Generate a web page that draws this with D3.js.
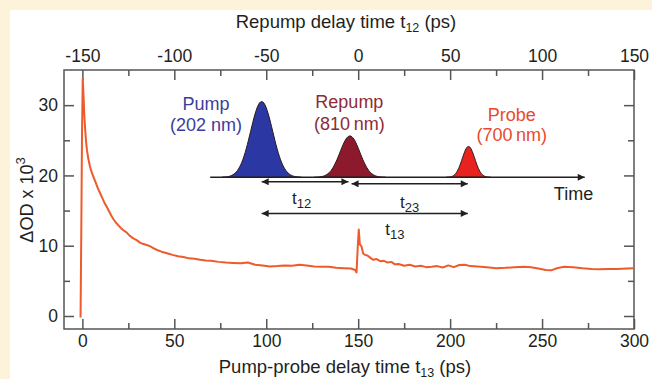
<!DOCTYPE html>
<html>
<head>
<meta charset="utf-8">
<script src="https://cdn.jsdelivr.net/npm/d3@7"></script>
<style>
body { margin: 0; background: #fdf3da; }
text { font-family: "Liberation Sans", Arial, Helvetica, sans-serif; fill: #231f20; }
</style>
</head>
<body>
<svg id="chart"></svg>
<script>
// measured trace: pump-probe delay t13 (ps) and dOD x 10^3
const delay = [-1, -0.6, -0.2, 0.2, 0.6, 1.0, 1.5, 2.0, 2.5, 3.2, 4.2, 5.0, 6.0, 7.2, 8.4, 9.6,
    11.0, 12.2, 13.3, 14.5, 15.7, 16.8, 18.2, 19.6, 21.0, 22.3, 24.0, 25.8, 27.7, 29.5, 31.5, 33.2,
    35, 37, 39, 41, 43, 45, 47, 49, 52, 55, 58, 61, 64, 67, 70, 74, 78, 82, 86, 90, 94, 98,
    102, 106, 110, 114, 118, 122, 126, 130, 134, 138, 142, 146, 148.4, 149.1, 149.7, 150.3, 150.9,
    151.8, 152.7, 153.6, 155, 156.5, 158, 160, 162, 164, 166, 168, 170, 172, 175, 178, 181, 184,
    187, 190, 193, 196, 199, 202, 205, 208, 211, 215, 220, 225, 230, 235, 240, 244, 248, 252,
    255, 258, 262, 267, 272, 277, 281, 286, 291, 296, 300];
const dOD = [-0.2, 12, 26, 33.8, 31.5, 28.8, 26.6, 24.8, 23.6, 22.4, 21.2, 20.5, 19.8, 19.0, 18.2, 17.5,
    16.7, 16.0, 15.5, 14.9, 14.3, 13.8, 13.3, 12.9, 12.5, 12.2, 11.9, 11.4, 11.05, 10.8, 10.4, 10.25,
    10.1, 9.9, 9.6, 9.35, 9.15, 9.0, 8.85, 8.7, 8.5, 8.4, 8.2, 8.15, 8.0, 7.9, 7.85, 7.7, 7.6, 7.55, 7.5, 7.6, 7.3, 7.2,
    7.05, 7.1, 7.2, 7.15, 7.3, 7.2, 7.05, 7.0, 7.0, 6.85, 6.8, 6.75, 6.55, 6.2, 9.5, 12.3, 10.2,
    9.9, 8.9, 8.7, 8.6, 8.3, 8.0, 8.1, 7.8, 7.85, 7.6, 7.7, 7.35, 7.4, 7.15, 7.3, 7.05, 7.15,
    6.95, 7.0, 7.1, 6.9, 7.2, 6.95, 7.25, 7.3, 7.1, 7.05, 6.95, 6.8, 6.85, 6.95, 7.0, 6.95, 6.75, 6.55,
    6.5, 6.8, 7.0, 6.95, 6.8, 6.7, 6.65, 6.7, 6.7, 6.75, 6.8];

const bottomTicks = [0, 50, 100, 150, 200, 250, 300];
const bottomMinor = [25, 75, 125, 175, 225, 275];
const topTicks = [-150, -100, -50, 0, 50, 100, 150];
const topMinor = [-125, -75, -25, 25, 75, 125];
const leftTicks = [0, 10, 20, 30];
const leftMinor = [5, 15, 25];

// pulse sketch (inset), given in t13 / dOD units of the main axes
const pulseNames = ['Pump', 'Repump', 'Probe'];
const pulseWaves = ['(202 nm)', '(810\u2009nm)', '(700\u2009nm)'];
const pulseCenters = [97.5, 145.5, 210];
const pulseHeights = [10.8, 5.9, 4.4];
const pulseSigmas = [6.0, 5.4, 3.4];
const delayNames = ['12', '23', '13'];
const delayFrom = [97.5, 146.4, 97.5];
const delayTo = [144.7, 209.6, 209.6];

var config = {
    width: 652,
    height: 379,
    margin: {top: 70, right: 18, bottom: 50, left: 64}
};

const W = config.width, H = config.height, m = config.margin;
const svg = d3.select('#chart').attr('width', W).attr('height', H);

svg.append('rect').attr('width', W).attr('height', H).attr('fill', '#fdf3da');
svg.append('rect').attr('x', 10).attr('y', 10).attr('width', W - 10).attr('height', H - 10).attr('fill', '#ffffff');

const xscale = d3.scaleLinear().domain([-10, 300]).range([m.left, W - m.right]);
const xtop = d3.scaleLinear().domain([-160, 150]).range([m.left, W - m.right]);
const yscale = d3.scaleLinear().domain([-1.85, 35]).range([H - m.bottom, m.top]);

const axisColor = '#555';
const MAJ = 10, MIN = 6;
const plain = d => String(d);   // keep an ASCII hyphen for negatives

function drawAxis(axis, tx, ty) {
    const g = svg.append('g')
        .attr('transform', `translate(${tx}, ${ty})`)
        .style('font-family', '"Liberation Sans", Arial, sans-serif')
        .style('font-size', '17.5px')
        .call(axis);
    g.select('.domain').remove();
    g.selectAll('line').attr('stroke', axisColor).attr('stroke-width', 1.5);
    g.selectAll('text').attr('fill', '#231f20');
    return g;
}

const yB = H - m.bottom, yT = m.top, xL = m.left, xR = W - m.right;

drawAxis(d3.axisBottom(xscale).tickValues(bottomTicks).tickSize(-MAJ).tickPadding(6).tickFormat(plain), 0, yB);
drawAxis(d3.axisBottom(xscale).tickValues(bottomMinor).tickSize(-MIN).tickFormat(''), 0, yB);
drawAxis(d3.axisTop(xtop).tickValues(topTicks).tickSize(-MAJ).tickPadding(8).tickFormat(plain), 0, yT);
drawAxis(d3.axisTop(xtop).tickValues(topMinor).tickSize(-MIN).tickFormat(''), 0, yT);
drawAxis(d3.axisLeft(yscale).tickValues(leftTicks).tickSize(-MAJ).tickPadding(6).tickFormat(plain), xL, 0);
drawAxis(d3.axisLeft(yscale).tickValues(leftMinor).tickSize(-MIN).tickFormat(''), xL, 0);
drawAxis(d3.axisRight(yscale).tickValues(leftTicks).tickSize(-MAJ).tickFormat(''), xR, 0);
drawAxis(d3.axisRight(yscale).tickValues(leftMinor).tickSize(-MIN).tickFormat(''), xR, 0);

// frame
svg.append('rect')
    .attr('x', xL).attr('y', yT)
    .attr('width', xR - xL).attr('height', yB - yT)
    .attr('fill', 'none').attr('stroke', axisColor).attr('stroke-width', 1.5);

// axis titles
const top_title = svg.append('text')
    .attr('x', 346).attr('y', 28)
    .attr('text-anchor', 'middle')
    .style('font-size', '18.5px');
top_title.append('tspan').text('Repump delay time t');
top_title.append('tspan').attr('dy', 4).style('font-size', '12.5px').text('12');
top_title.append('tspan').attr('dy', -4).text(' (ps)');

const bottom_title = svg.append('text')
    .attr('x', 345).attr('y', 373)
    .attr('text-anchor', 'middle')
    .style('font-size', '18.5px');
bottom_title.append('tspan').text('Pump-probe delay time t');
bottom_title.append('tspan').attr('dy', 4).style('font-size', '12.5px').text('13');
bottom_title.append('tspan').attr('dy', -4).text(' (ps)');

const ylabel = svg.append('text')
    .attr('transform', 'translate(33, 200) rotate(-90)')
    .attr('text-anchor', 'middle')
    .style('font-size', '18px');
ylabel.append('tspan').text('\u0394OD x 10');
ylabel.append('tspan').attr('dy', -8).style('font-size', '13px').text('3');

// data trace
const trace = delay.map((d, i) => ({x: d, y: dOD[i]}));
svg.append('path')
    .datum(trace)
    .attr('d', d3.line()
        .x(d => xscale(d.x))
        .y(d => yscale(d.y)))
    .attr('fill', 'none')
    .attr('stroke', '#ef5a2b')
    .attr('stroke-width', 2)
    .attr('stroke-linejoin', 'round');

// ---- inset sketch ----
const defs = svg.append('defs');
defs.append('marker')
    .attr('id', 'head')
    .attr('viewBox', '0 0 10 10')
    .attr('refX', 10).attr('refY', 5)
    .attr('markerWidth', 9).attr('markerHeight', 7)
    .attr('markerUnits', 'userSpaceOnUse')
    .attr('orient', 'auto-start-reverse')
    .append('path').attr('d', 'M0,0 L10,5 L0,10 z').attr('fill', '#231f20');

const baseVal = 19.73;
const pulseFill = ['#2b37a3', '#8c1a2c', '#e8221f'];
const pulseText = ['#3b3d9c', '#8e2b34', '#ea4a2c'];

pulseCenters.forEach((c, i) => {
    const s = pulseSigmas[i], h = pulseHeights[i];
    const pts = d3.range(-3.6, 3.61, 0.1).map(k => ({x: c + k * s, y: baseVal + h * Math.exp(-k * k / 2)}));
    svg.append('path')
        .datum(pts)
        .attr('d', d3.area()
            .x(d => xscale(d.x))
            .y0(yscale(baseVal))
            .y1(d => yscale(d.y))
            .curve(d3.curveBasis))
        .attr('fill', pulseFill[i])
        .attr('stroke', '#2a1a1a')
        .attr('stroke-width', 1);
});

// time axis of the sketch
svg.append('line')
    .attr('x1', xscale(69.5)).attr('x2', xscale(273.2))
    .attr('y1', yscale(baseVal)).attr('y2', yscale(baseVal))
    .attr('stroke', '#231f20').attr('stroke-width', 1.5)
    .attr('marker-end', 'url(#head)');
svg.append('text')
    .attr('x', xscale(256.4)).attr('y', yscale(16.5))
    .style('font-size', '18px')
    .text('Time');

// pulse labels
const nameX = [67.2, 145.2, 233.5];
const nameY = [29.37, 29.6, 27.68];
const waveY = [26.3, 26.5, 24.85];
pulseNames.forEach((n, i) => {
    svg.append('text')
        .attr('x', xscale(nameX[i])).attr('y', yscale(nameY[i]))
        .attr('text-anchor', 'middle')
        .style('font-size', '18px')
        .style('fill', pulseText[i])
        .text(n);
    svg.append('text')
        .attr('x', xscale(nameX[i])).attr('y', yscale(waveY[i]))
        .attr('text-anchor', 'middle')
        .style('font-size', '18px')
        .style('fill', pulseText[i])
        .text(pulseWaves[i]);
});

// delay arrows
const arrowY = [19.1, 18.8, 14.6];
const labelX = [119.2, 178, 170];
const labelY = [15.9, 15.4, 11.5];
delayNames.forEach((n, i) => {
    svg.append('line')
        .attr('x1', xscale(delayFrom[i])).attr('x2', xscale(delayTo[i]))
        .attr('y1', yscale(arrowY[i])).attr('y2', yscale(arrowY[i]))
        .attr('stroke', '#231f20').attr('stroke-width', 1.5)
        .attr('marker-start', 'url(#head)')
        .attr('marker-end', 'url(#head)');
    const t = svg.append('text')
        .attr('x', xscale(labelX[i])).attr('y', yscale(labelY[i]))
        .attr('text-anchor', 'middle')
        .style('font-size', '17px');
    t.append('tspan').text('t');
    t.append('tspan').attr('dy', 4).style('font-size', '13px').text(n);
});
</script>
</body>
</html>
